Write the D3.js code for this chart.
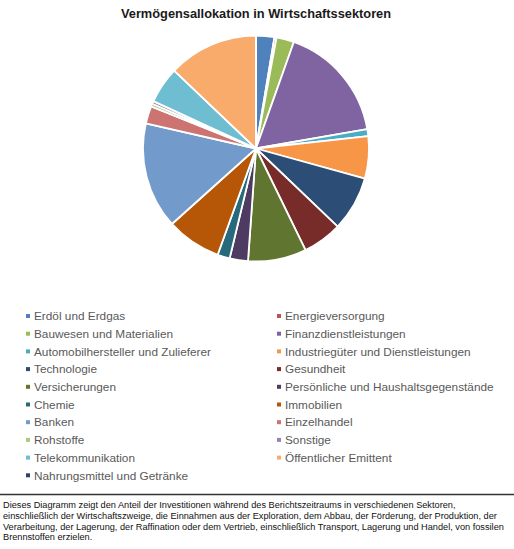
<!DOCTYPE html>
<html><head><meta charset="utf-8">
<script src="https://cdn.jsdelivr.net/npm/d3@7"></script>
<style>
html,body{margin:0;padding:0;background:#fff;}
svg{display:block;font-family:"Liberation Sans",Arial,sans-serif;}
</style></head>
<body>
<svg id="chart" width="514" height="549"></svg>
<script>
const title = "Vermögensallokation in Wirtschaftssektoren";
const categories = ["Erdöl und Erdgas","Energieversorgung","Bauwesen und Materialien","Finanzdienstleistungen","Automobilhersteller und Zulieferer","Industriegüter und Dienstleistungen","Technologie","Gesundheit","Versicherungen","Persönliche und Haushaltsgegenstände","Chemie","Immobilien","Banken","Einzelhandel","Rohstoffe","Sonstige","Telekommunikation","Öffentlicher Emittent","Nahrungsmittel und Getränke"];
const values = [2.6,0.3,2.5,16.7,1.0,6.0,7.8,5.6,8.3,2.6,1.75,7.8,15.1,2.5,0.4,0.4,5.2,12.8,0];
const colors = ["#4F81BD","#C0504D","#9BBB59","#8064A2","#4BACC6","#F79646","#2C4D75","#772C2A","#5F7530","#4D3B62","#276A7C","#B65708","#729ACA","#CD7371","#AFC97A","#9983B5","#6FBDD1","#F9AB6B","#2A4468"];
const footnote = [
"Dieses Diagramm zeigt den Anteil der Investitionen während des Berichtszeitraums in verschiedenen Sektoren,",
"einschließlich der Wirtschaftszweige, die Einnahmen aus der Exploration, dem Abbau, der Förderung, der Produktion, der",
"Verarbeitung, der Lagerung, der Raffination oder dem Vertrieb, einschließlich Transport, Lagerung und Handel, von fossilen",
"Brennstoffen erzielen."];

const data = categories.map((c,i)=>({name:c,value:values[i],color:colors[i]}));
const svg = d3.select("#chart");

svg.append("text").attr("x",256).attr("y",18).attr("text-anchor","middle")
  .attr("font-size","12.8px").attr("font-weight","bold").attr("fill","#1a1a1a").text(title);

const cx=256, cy=148.5, r=113;
const pie = d3.pie().sort(null).value(d=>d.value);
const arc = d3.arc().innerRadius(0).outerRadius(r);
svg.append("g").attr("transform",`translate(${cx},${cy})`)
  .selectAll("path").data(pie(data)).join("path")
  .attr("d",arc).attr("fill",d=>d.data.color)
  .attr("stroke","#fff").attr("stroke-width",1.8).attr("stroke-linejoin","round");

// legend: row-major, 2 columns
const colX = d3.scaleOrdinal().domain([0,1]).range([26,277]);
const rowY = d3.scaleLinear().domain([0,1]).range([316,333.7]);
const lg = svg.append("g");
data.forEach((d,i)=>{
  const col=i%2, row=Math.floor(i/2);
  const g = lg.append("g").attr("transform",`translate(${colX(col)},${rowY(row)})`);
  g.append("rect").attr("x",0).attr("y",-2).attr("width",4).attr("height",4).attr("fill",d.color);
  g.append("text").attr("x",8).attr("y",4.2).attr("font-size","11.8px").attr("fill","#595959").text(d.name);
});

svg.append("line").attr("x1",0).attr("x2",514).attr("y1",494.5).attr("y2",494.5)
  .attr("stroke","#333").attr("stroke-width",1.3);
const ft = svg.append("text").attr("font-size","9.2px").attr("fill","#111");
footnote.forEach((l,i)=>{
  ft.append("tspan").attr("x",3).attr("y",508+i*10.8).text(l);
});
</script>
</body></html>
